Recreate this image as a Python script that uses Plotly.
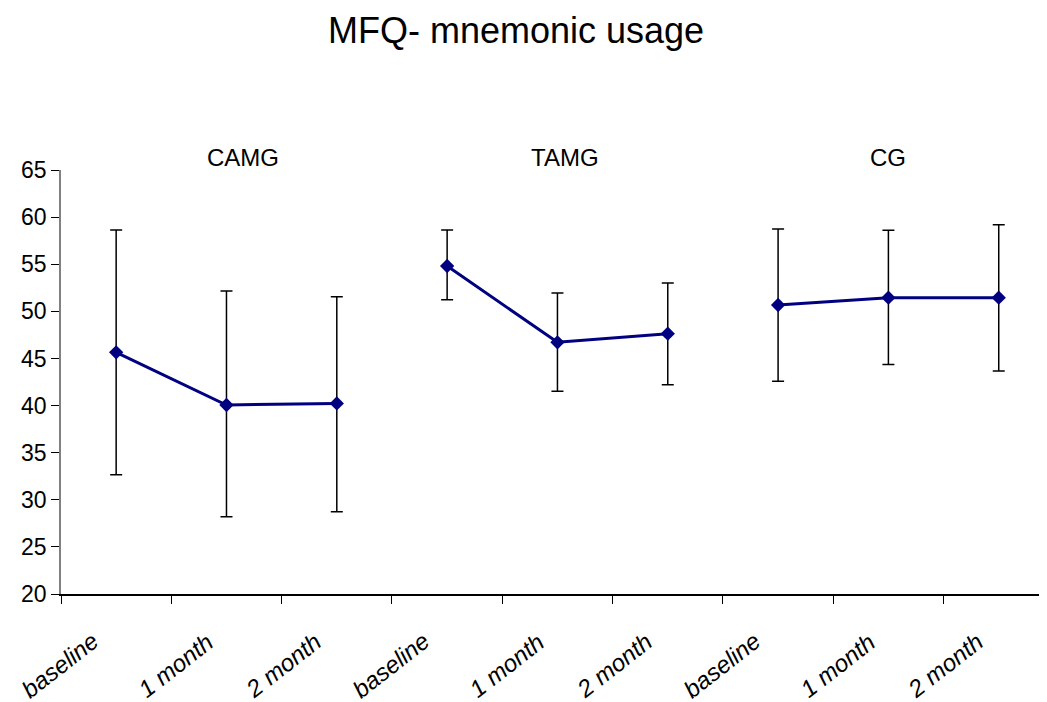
import plotly.graph_objects as go

groups = ["CAMG", "TAMG", "CG"]
timepoints = ["baseline", "1 month", "2 month"]

camg_mean = [45.65, 40.06, 40.23]
camg_upper = [58.63, 52.16, 51.56]
camg_lower = [32.66, 28.20, 28.74]

tamg_mean = [54.81, 46.71, 47.63]
tamg_upper = [58.63, 51.95, 53.00]
tamg_lower = [51.24, 41.51, 42.22]

cg_mean = [50.67, 51.45, 51.45]
cg_upper = [58.74, 58.60, 59.20]
cg_lower = [42.57, 44.37, 43.67]

title_text = "MFQ- mnemonic usage"
y_ticks = [20, 25, 30, 35, 40, 45, 50, 55, 60, 65]

series = [
    (camg_mean, camg_upper, camg_lower),
    (tamg_mean, tamg_upper, tamg_lower),
    (cg_mean, cg_upper, cg_lower),
]

FONT = "Liberation Sans, Arial, sans-serif"
T, B, L, R = 162, 116, 53, 0
W, H = 1047, 702
plot_h = H - T - B

fig = go.Figure()
tick_positions = []
tick_labels = []
for gi, (m, up, lo) in enumerate(series):
    xs = [gi * len(timepoints) + i for i in range(len(timepoints))]
    tick_positions += xs
    tick_labels += timepoints
    fig.add_trace(go.Scatter(
        x=xs, y=m, mode="lines+markers",
        line=dict(color="#000080", width=3),
        marker=dict(symbol="diamond", size=11, color="#000080"),
        error_y=dict(type="data", symmetric=False,
                     array=[u - v for u, v in zip(up, m)],
                     arrayminus=[v - l for v, l in zip(m, lo)],
                     color="black", thickness=1.5, width=6),
        showlegend=False, hoverinfo="y",
    ))

# group labels above the plot
ann_x = [1.15, 4.07, 7.0]
for gname, ax in zip(groups, ann_x):
    fig.add_annotation(x=ax, y=1 + (162 - 150) / plot_h, xref="x", yref="paper",
                       text=gname, showarrow=False,
                       font=dict(size=24, color="black", family=FONT),
                       yanchor="middle")

# rotated italic category labels
label_shift = {"baseline": -57, "1 month": -51, "2 month": -54}
for xv, lab in zip(tick_positions, tick_labels):
    fig.add_annotation(x=xv, y=0, xref="x", yref="paper",
                       text="<i>" + lab + "</i>", showarrow=False,
                       textangle=-38, xanchor="center", yanchor="middle",
                       xshift=label_shift[lab], yshift=-71,
                       font=dict(size=24, color="black", family=FONT))

fig.update_layout(
    width=W, height=H,
    margin=dict(l=L, r=R, t=T, b=B),
    paper_bgcolor="white", plot_bgcolor="white",
    font=dict(family=FONT, color="black"),
    title=dict(text=title_text, x=508 / W, xanchor="center",
               y=1 - 22 / H, yanchor="middle",
               font=dict(size=36, color="black")),
    xaxis=dict(range=[-0.5, 8.51], tickvals=tick_positions, ticktext=tick_labels,
               showticklabels=False, ticks="", showgrid=False, zeroline=False,
               showline=True, linecolor="black", linewidth=1.5,
               minor=dict(tickmode="linear", tick0=-0.5, dtick=1, ticks="outside",
                          ticklen=8, tickcolor="black", tickwidth=1, showgrid=False)),
    yaxis=dict(range=[20, 65], tickvals=y_ticks, ticks="outside", ticklen=8,
               tickcolor="black", showgrid=False, zeroline=False,
               showline=True, linecolor="#808080", linewidth=1.5,
               tickfont=dict(size=23)),
)

fig.write_html("out.html")
